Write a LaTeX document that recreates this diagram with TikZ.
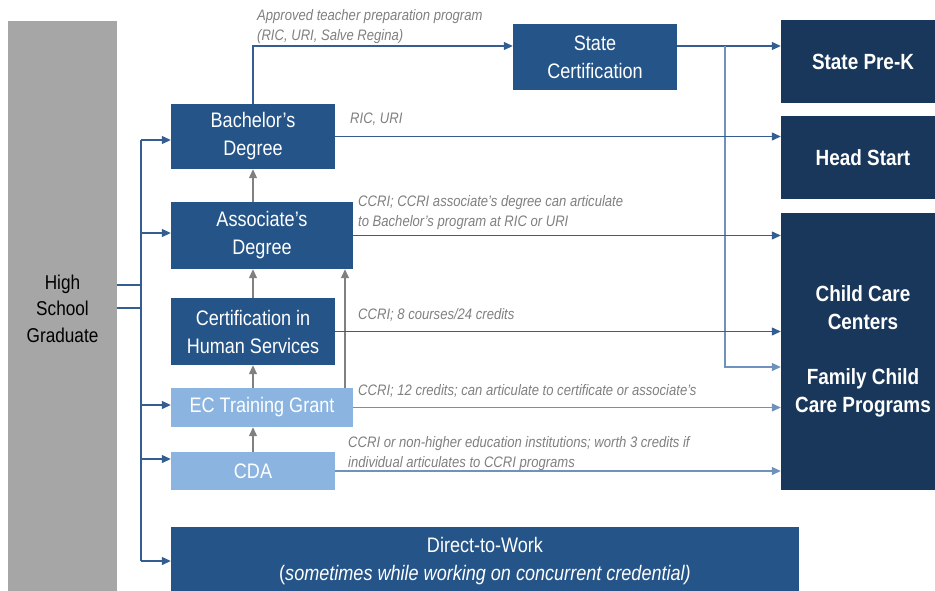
\documentclass[tikz,border=0pt]{standalone}
\usepackage{fontspec}
\setmainfont[FakeStretch=0.86]{Liberation Sans}
\usetikzlibrary{arrows.meta,calc}
\definecolor{midblue}{RGB}{36,84,136}
\definecolor{navy}{RGB}{24,55,90}
\definecolor{lightblue}{RGB}{139,180,224}
\definecolor{hsgray}{RGB}{166,166,166}
\definecolor{linkblue}{RGB}{52,94,145}
\definecolor{paleblue}{RGB}{110,146,188}
\definecolor{notegray}{RGB}{128,128,128}
\tikzset{
  box/.style={rectangle, inner sep=0pt, text=white, align=center, font=\fontsize{21}{28}\selectfont},
  mid/.style={box, fill=midblue},
  light/.style={box, fill=lightblue},
  dest/.style={box, fill=navy, font=\bfseries\fontsize{22}{28}\selectfont},
  note/.style={inner sep=0pt, anchor=west, align=left, text=notegray, font=\itshape\fontsize{15.2}{20}\selectfont},
  conn/.style={draw=linkblue, line width=1.2pt},
  pconn/.style={draw=paleblue, line width=1.2pt},
  arr/.style={conn, -{Triangle[length=9pt,width=8pt]}},
  parr/.style={pconn, -{Triangle[length=9pt,width=8pt]}},
  garr/.style={draw=notegray, line width=1.2pt, -{Triangle[length=9pt,width=8pt]}}
}
\begin{document}
\begin{tikzpicture}[x=1pt,y=-1pt]
\clip (0,0) rectangle (935,590);
\fill[white] (0,0) rectangle (935,590);
% left column
\node[rectangle, inner sep=0pt, fill=hsgray, minimum width=109pt, minimum height=575pt, align=center, font=\fontsize{20}{26.5}\selectfont] (hs) at (62.5,308.5) {High\\School\\Graduate};
% credential boxes
\node[mid, minimum width=164pt, minimum height=65pt] (bach) at (253,136.5) {Bachelor’s\\Degree};
\node[mid, minimum width=182pt, minimum height=67pt] (assoc) at (262,235.5) {Associate’s\\Degree};
\node[mid, minimum width=164pt, minimum height=67pt] (cert) at (253,331.5) {Certification in\\Human Services};
\node[light, minimum width=182pt, minimum height=39pt] (ec) at (262,407.5) {EC Training Grant};
\node[light, minimum width=164pt, minimum height=38pt] (cda) at (253,471) {CDA};
\node[mid, minimum width=628pt, minimum height=69pt] (dtw) at (485,561.5) {Direct-to-Work\\(\textit{sometimes while working on concurrent credential)}};
\node[mid, minimum width=164pt, minimum height=66pt] (sc) at (595,57) {State\\Certification};
% destinations
\node[dest, minimum width=164pt, minimum height=83pt] (prek) at (863,61.5) {State Pre-K};
\node[dest, minimum width=164pt, minimum height=83pt] (head) at (863,157.5) {Head Start};
\node[dest, minimum width=164pt, minimum height=277pt] (cc) at (863,351.5) {Child Care\\Centers\\[26.5pt]Family Child\\Care Programs};
% coordinates
\coordinate (y1) at (0,285);
\coordinate (y2) at (0,308);
\coordinate (tk) at (141,0);
\coordinate (t1) at (141,140);
\coordinate (t2) at (141,233);
\coordinate (t3) at (141,405);
\coordinate (t4) at (141,459);
\coordinate (t5) at (141,561);
\coordinate (scy) at (0,46);
\coordinate (br) at (725,46);
\coordinate (fcy) at (0,367);
\coordinate (gx) at (345,0);
% high school to trunk
\draw[conn] (hs.east |- y1) -- (tk |- y1);
\draw[conn] (hs.east |- y2) -- (tk |- y2);
\draw[conn] (t1) -- (t5);
\draw[arr] (t1) -- (t1 -| bach.west);
\draw[arr] (t2) -- (t2 -| assoc.west);
\draw[arr] (t3) -- (t3 -| ec.west);
\draw[arr] (t4) -- (t4 -| cda.west);
\draw[arr] (t5) -- (t5 -| dtw.west);
% upward articulation
\draw[garr] (bach.south |- assoc.north) -- (bach.south);
\draw[garr] (cert.north) -- (cert.north |- assoc.south);
\draw[garr] (cert.south |- ec.north) -- (cert.south);
\draw[garr] (cda.north) -- (cda.north |- ec.south);
\draw[garr] (ec.north -| gx) -- (assoc.south -| gx);
% to state certification
\draw[arr] (bach.north) |- (sc.west |- scy);
\draw[arr] (sc.east |- scy) -- (prek.west |- scy);
\draw[parr] (br) |- (cc.west |- fcy);
% to destinations
\draw[arr] (bach.east) -- (bach.east -| head.west);
\draw[arr] (assoc.east) -- (assoc.east -| cc.west);
\draw[arr] (cert.east) -- (cert.east -| cc.west);
\draw[parr] (ec.east) -- (ec.east -| cc.west);
\draw[parr] (cda.east) -- (cda.east -| cc.west);
% notes
\node[note] (n1) at (257,27) {Approved teacher preparation program\\(RIC, URI, Salve Regina)};
\node[note] (n2) at (350,119) {RIC, URI};
\node[note] (n3) at (358,213) {CCRI; CCRI associate’s degree can articulate\\to Bachelor’s program at RIC or URI};
\node[note] (n4) at (358,315) {CCRI; 8 courses/24 credits};
\node[note] (n5) at (358,391) {CCRI; 12 credits; can articulate to certificate or associate’s};
\node[note] (n6) at (348,454) {CCRI or non-higher education institutions; worth 3 credits if\\individual articulates to CCRI programs};
\end{tikzpicture}
\end{document}
